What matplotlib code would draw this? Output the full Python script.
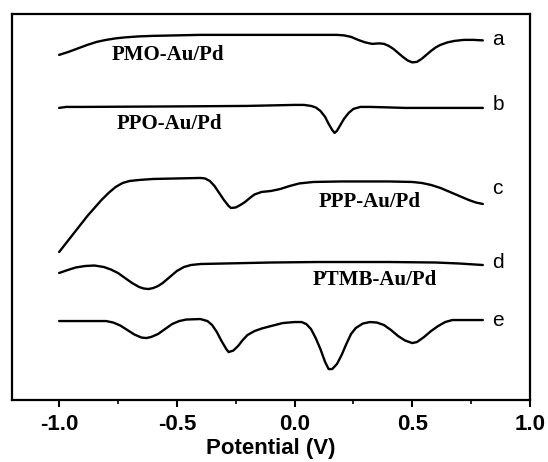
import matplotlib
matplotlib.use('Agg')
import matplotlib.pyplot as plt
from matplotlib.ticker import MultipleLocator, NullLocator

plt.rcParams['axes.unicode_minus'] = False

# potential (V) and current (arb. units, offset)
pot_a = [-1.0, -0.96, -0.92, -0.88, -0.84, -0.80, -0.76, -0.72, -0.66, -0.6, -0.4, 0.0, 0.18, 0.21,
         0.24, 0.27, 0.30, 0.33, 0.36, 0.38, 0.40, 0.42, 0.44, 0.46, 0.48, 0.50, 0.52, 0.54, 0.56,
         0.58, 0.60, 0.62, 0.65, 0.68, 0.72, 0.76, 0.80]
cur_a = [34.7, 35.0, 35.35, 35.7, 36.0, 36.2, 36.35, 36.45, 36.55, 36.6, 36.7, 36.7, 36.7, 36.65,
         36.5, 36.2, 35.95, 35.8, 35.85, 35.8, 35.6, 35.3, 34.9, 34.5, 34.15, 33.95, 34.0, 34.3, 34.7,
         35.1, 35.45, 35.7, 35.95, 36.1, 36.2, 36.2, 36.15]

pot_b = [-1.0, -0.97, -0.9, -0.5, -0.2, 0.0, 0.04, 0.07, 0.09, 0.11, 0.13, 0.145, 0.16, 0.17, 0.18,
         0.195, 0.21, 0.23, 0.25, 0.28, 0.32, 0.40, 0.47, 0.8]
cur_b = [29.4, 29.5, 29.5, 29.55, 29.6, 29.7, 29.7, 29.6, 29.45, 29.1, 28.5, 27.8, 27.2, 26.9, 27.1,
         27.7, 28.3, 28.9, 29.3, 29.5, 29.5, 29.45, 29.4, 29.4]

pot_c = [-1.0, -0.97, -0.94, -0.91, -0.88, -0.85, -0.82, -0.79, -0.76, -0.73, -0.70, -0.66, -0.6,
         -0.5, -0.40, -0.38, -0.36, -0.34, -0.32, -0.30, -0.28, -0.27, -0.25, -0.23, -0.21, -0.19,
         -0.17, -0.14, -0.10, -0.06, -0.02, 0.02, 0.08, 0.2, 0.4, 0.5, 0.54, 0.58, 0.62, 0.66, 0.70,
         0.74, 0.77, 0.80]
cur_c = [15.0, 15.9, 16.8, 17.7, 18.6, 19.4, 20.2, 20.9, 21.5, 21.9, 22.1, 22.2, 22.3,
         22.35, 22.4, 22.35, 22.1, 21.6, 20.9, 20.2, 19.6, 19.4, 19.45, 19.7, 20.0, 20.4,
         20.75, 21.0, 21.1, 21.3, 21.6, 21.85, 22.0, 22.05, 22.05, 22.0, 21.9, 21.7, 21.4, 21.0, 20.6,
         20.2, 19.95, 19.8]

pot_d = [-1.0, -0.97, -0.93, -0.89, -0.85, -0.81, -0.78, -0.75, -0.72, -0.69, -0.66, -0.64, -0.62,
         -0.60, -0.58, -0.56, -0.53, -0.50, -0.47, -0.44, -0.40, -0.3, -0.1, 0.1, 0.4, 0.6, 0.7, 0.8]
cur_d = [12.9, 13.15, 13.45, 13.6, 13.65, 13.5, 13.25, 12.9, 12.4, 11.9, 11.5, 11.35, 11.3,
         11.4, 11.6, 11.9, 12.5, 13.1, 13.5, 13.7, 13.8, 13.85, 13.95, 14.0, 14.0, 13.95, 13.85, 13.7]

pot_e = [-1.0, -0.9, -0.80, -0.77, -0.74, -0.71, -0.68, -0.65, -0.63, -0.61, -0.58, -0.55, -0.52,
         -0.49, -0.46, -0.40, -0.37, -0.35, -0.33, -0.31, -0.29, -0.28, -0.26, -0.24, -0.22, -0.20,
         -0.17, -0.14, -0.10, -0.05, 0.0, 0.03, 0.05, 0.07, 0.09, 0.11, 0.13, 0.145, 0.16, 0.18,
         0.20, 0.22, 0.24, 0.26, 0.29, 0.32, 0.35, 0.38, 0.41, 0.44, 0.47, 0.50, 0.52, 0.55, 0.58,
         0.61, 0.64, 0.67, 0.72, 0.8]
cur_e = [8.1, 8.1, 8.1, 7.95, 7.65, 7.2, 6.75, 6.45, 6.4, 6.5, 6.8, 7.3, 7.8,
         8.1, 8.25, 8.3, 8.1, 7.7, 7.0, 6.1, 5.3, 5.0, 5.15, 5.6, 6.2, 6.7,
         7.1, 7.35, 7.6, 7.9, 8.0, 8.0, 7.8, 7.3, 6.4, 5.3, 4.0, 3.3, 3.3, 3.8,
         4.7, 5.8, 6.8, 7.4, 7.85, 8.0, 7.95, 7.7, 7.2, 6.6, 6.15, 5.9, 6.0, 6.5, 7.1,
         7.6, 8.0, 8.2, 8.2, 8.2]

curve_tags = ['a', 'b', 'c', 'd', 'e']
tag_levels = [36.2, 29.7, 21.3, 14.0, 8.2]
sample_names = ['PMO-Au/Pd', 'PPO-Au/Pd', 'PPP-Au/Pd', 'PTMB-Au/Pd']
name_pos = [(-0.54, 34.7), (-0.53, 27.8), (0.32, 20.0), (0.34, 12.2)]

fig = plt.figure(figsize=(5.48, 4.62), dpi=100)
ax = fig.add_axes([0.022, 0.134, 0.945, 0.836])

for p, c in [(pot_a, cur_a), (pot_b, cur_b), (pot_c, cur_c), (pot_d, cur_d), (pot_e, cur_e)]:
    ax.plot(p, c, color='black', lw=1.7, solid_joinstyle='round', solid_capstyle='round')

for tag, lev in zip(curve_tags, tag_levels):
    ax.text(0.84, lev, tag, family='Liberation Sans', fontsize=15, va='center', ha='left')

for name, (px, py) in zip(sample_names, name_pos):
    ax.text(px, py, name, family='Liberation Serif', fontweight='bold', fontsize=15,
            ha='center', va='center')

ax.set_xlim(-1.2, 1.0)
ax.set_ylim(0.2, 38.8)
ax.xaxis.set_major_locator(MultipleLocator(0.5))
ax.xaxis.set_minor_locator(MultipleLocator(0.25))
ax.yaxis.set_major_locator(NullLocator())
ax.tick_params(axis='x', which='major', direction='out', length=5, width=1.5, pad=5)
ax.tick_params(axis='x', which='minor', direction='out', length=3, width=1.2)
for lab in ax.get_xticklabels():
    lab.set_family('Liberation Sans')
    lab.set_fontweight('bold')
    lab.set_fontsize(16)
ax.set_xlabel('Potential (V)', family='Liberation Sans', fontweight='bold', fontsize=16, labelpad=2)
for s in ax.spines.values():
    s.set_linewidth(1.6)

fig.savefig('out.png', dpi=100)
